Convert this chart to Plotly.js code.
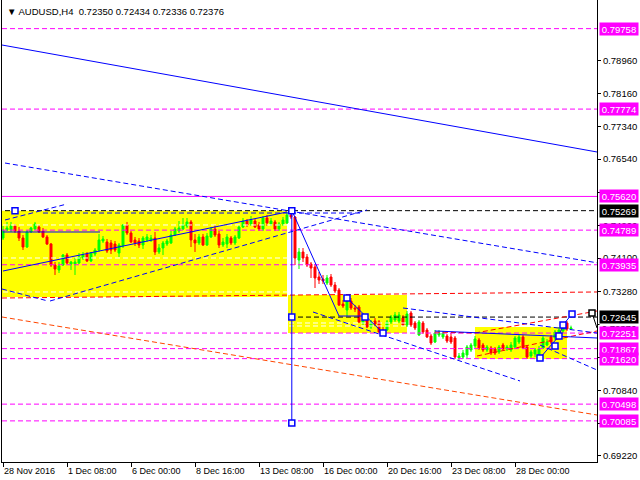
<!DOCTYPE html>
<html><head><meta charset="utf-8">
<script src="https://cdn.plot.ly/plotly-3.0.1.min.js"></script>
<style>html,body{margin:0;padding:0;background:#fff}#chart{width:640px;height:480px}</style>
</head><body><div id="chart"></div>
<script>
// ---------------- DATA ----------------
const symbolTitle = "AUDUSD,H4";
const lastOHLC = [0.72350, 0.72434, 0.72336, 0.72376];

const opens = [0.74595,0.74792,0.74792,0.74891,0.74768,0.74595,0.74373,0.74743,0.74817,0.74866,
0.74768,0.74620,0.74447,0.73929,0.73806,0.73929,0.74176,0.73954,0.73954,0.73978,
0.74102,0.74200,0.74028,0.74200,0.74299,0.74521,0.74496,0.74472,0.74447,0.74225,
0.74398,0.74916,0.74718,0.74546,0.74521,0.74422,0.74546,0.74546,0.74595,0.74250,
0.74348,0.74447,0.74472,0.74669,0.74768,0.74817,0.74891,0.74990,0.74546,0.74472,
0.74620,0.74422,0.74620,0.74817,0.74694,0.74422,0.74447,0.74595,0.74472,0.74595,
0.74866,0.75014,0.74940,0.75014,0.74916,0.74817,0.75088,0.74940,0.74990,0.74817,
0.74940,0.74965,0.75162,0.75113,0.74052,0.74250,0.74126,0.73954,0.73880,0.73633,
0.73584,0.73485,0.73633,0.73436,0.73313,0.72967,0.72819,0.73041,0.72869,0.72893,
0.72499,0.72573,0.72400,0.72548,0.72524,0.72326,0.72326,0.72524,0.72573,0.72548,
0.72622,0.72450,0.72745,0.72499,0.72203,0.72499,0.72326,0.72178,0.72030,0.72203,
0.72154,0.72178,0.72154,0.72129,0.71636,0.71660,0.71710,0.71833,0.71932,0.72080,
0.71956,0.71833,0.71882,0.71858,0.71784,0.71956,0.71858,0.71833,0.71907,0.72030,
0.72154,0.71907,0.71685,0.71734,0.71710,0.71882,0.71956,0.72154,0.72129,0.72252,
0.72302,0.72499,0.72350];
const highs = [0.74891,0.74990,0.74990,0.74940,0.74866,0.74669,0.74792,0.74866,0.74990,0.74916,
0.74842,0.74669,0.74472,0.74003,0.74003,0.74200,0.74225,0.74028,0.74102,0.74225,
0.74250,0.74250,0.74250,0.74348,0.74694,0.74644,0.74570,0.74546,0.74521,0.74472,
0.74940,0.74990,0.74768,0.74620,0.74595,0.74644,0.74694,0.74669,0.74743,0.74447,
0.74521,0.74570,0.74768,0.74866,0.75014,0.75088,0.75088,0.75039,0.74694,0.74694,
0.74694,0.74718,0.74866,0.74916,0.74768,0.74595,0.74694,0.74644,0.74669,0.74916,
0.75088,0.75063,0.75137,0.75063,0.74990,0.75137,0.75162,0.75088,0.75039,0.74990,
0.75113,0.75236,0.75269,0.75137,0.74348,0.74348,0.74200,0.74003,0.73954,0.73756,
0.73683,0.73683,0.73707,0.73510,0.73362,0.73066,0.73140,0.73115,0.72943,0.72943,
0.72647,0.72622,0.72573,0.72622,0.72573,0.72400,0.72573,0.72696,0.72770,0.72770,
0.72696,0.72795,0.72795,0.72548,0.72573,0.72548,0.72376,0.72228,0.72326,0.72326,
0.72302,0.72228,0.72252,0.72178,0.71759,0.71833,0.71956,0.72006,0.72178,0.72129,
0.72006,0.71956,0.71932,0.71907,0.71956,0.72006,0.71956,0.72030,0.72178,0.72228,
0.72203,0.71956,0.71833,0.71882,0.71932,0.72178,0.72104,0.72203,0.72326,0.72400,
0.72524,0.72548,0.72434];
const lows = [0.74546,0.74768,0.74743,0.74718,0.74521,0.74299,0.74348,0.74718,0.74792,0.74718,
0.74595,0.74422,0.73880,0.73683,0.73732,0.73904,0.73954,0.73806,0.73683,0.73954,
0.74052,0.74003,0.74003,0.74151,0.74250,0.74472,0.74225,0.74200,0.74250,0.74126,
0.74348,0.74669,0.74472,0.74398,0.74348,0.74324,0.74496,0.74496,0.74176,0.74200,
0.74176,0.74398,0.74447,0.74644,0.74718,0.74792,0.74842,0.74373,0.74250,0.74422,
0.74398,0.74398,0.74595,0.74620,0.74348,0.74373,0.74348,0.74422,0.74422,0.74570,
0.74842,0.74866,0.74891,0.74842,0.74768,0.74768,0.74891,0.74891,0.74768,0.74768,
0.74891,0.74940,0.75063,0.73929,0.73830,0.74003,0.73880,0.73609,0.73362,0.73461,
0.73461,0.73436,0.73387,0.73239,0.72918,0.72869,0.72671,0.72819,0.72770,0.72499,
0.72450,0.72376,0.72351,0.72425,0.72252,0.72228,0.72302,0.72474,0.72524,0.72499,
0.72425,0.72400,0.72400,0.72326,0.72178,0.72228,0.72129,0.71956,0.72006,0.72154,
0.72104,0.72006,0.71981,0.71611,0.71586,0.71611,0.71636,0.71784,0.71882,0.71833,
0.71784,0.71784,0.71710,0.71710,0.71734,0.71833,0.71808,0.71784,0.71858,0.71981,
0.71858,0.71611,0.71636,0.71660,0.71636,0.71858,0.71932,0.71981,0.72080,0.72228,
0.72252,0.72302,0.72336];
const closes = [0.74792,0.74842,0.74891,0.74768,0.74595,0.74373,0.74743,0.74842,0.74940,0.74743,
0.74620,0.74447,0.73929,0.73830,0.73904,0.74176,0.73978,0.74003,0.74003,0.74126,
0.74176,0.74028,0.74225,0.74299,0.74546,0.74570,0.74274,0.74299,0.74299,0.74422,
0.74916,0.74718,0.74496,0.74472,0.74422,0.74595,0.74620,0.74595,0.74250,0.74348,
0.74472,0.74521,0.74669,0.74817,0.74842,0.74916,0.74990,0.74546,0.74472,0.74620,
0.74422,0.74644,0.74817,0.74669,0.74422,0.74496,0.74620,0.74472,0.74620,0.74866,
0.75014,0.74916,0.75039,0.74866,0.74817,0.75088,0.74965,0.75014,0.74817,0.74940,
0.75039,0.75162,0.75113,0.74102,0.74250,0.74102,0.73929,0.73855,0.73609,0.73559,
0.73535,0.73609,0.73436,0.73288,0.72943,0.72918,0.73066,0.72869,0.72844,0.72524,
0.72573,0.72400,0.72524,0.72474,0.72277,0.72302,0.72524,0.72647,0.72696,0.72696,
0.72450,0.72721,0.72450,0.72376,0.72524,0.72277,0.72154,0.72006,0.72252,0.72252,
0.72252,0.72055,0.72030,0.71660,0.71685,0.71759,0.71907,0.71956,0.72104,0.71882,
0.71833,0.71907,0.71759,0.71759,0.71907,0.71858,0.71907,0.71956,0.72129,0.72154,
0.71882,0.71660,0.71784,0.71833,0.71858,0.72129,0.72030,0.72030,0.72277,0.72326,
0.72450,0.72351,0.72376];

const dateTickBars = [0,16,32,48,64,80,96,112,128];
const dateTickLabels = ["28 Nov 2016","1 Dec 08:00","6 Dec 00:00","8 Dec 16:00","13 Dec 08:00",
  "16 Dec 00:00","20 Dec 16:00","23 Dec 08:00","28 Dec 00:00"];
const priceTicks = [0.69220,0.70020,0.70840,0.71640,0.72460,0.73280,0.74100,0.74900,0.75720,0.76540,0.77340,0.78160,0.78960];

// horizontal levels
const magentaDashedLevels = [0.79758,0.77774,0.74789,0.73935,0.72251,0.71867,0.71620,0.70498,0.70085];
const magentaSolidLevels = [0.75620];
const blackLevels = [0.75269,0.72645];
const blackLevelStartBars = [0.5,71.75];
const bidPrice = 0.72376;

// rectangles (bar index / price)
const zoneStart = [-0.25,71.25,118];
const zoneEnd = [71,101,141];
const zoneTop = [0.75269,0.73190,0.72400];
const zoneBottom = [0.73140,0.72252,0.71611];

// trend lines, grouped by kind
const blueSolidSegments = [
  {x:[-0.25,148.5], y:[0.79354,0.76716]},
  {x:[0,71], y:[0.73781,0.75236]},
  {x:[0,24.25], y:[0.74743,0.74743]},
  {x:[72.2,72.2], y:[0.75269,0.70033]},
  {x:[72.5,84,90.5], y:[0.75211,0.72671,0.72671]},
  {x:[86,95], y:[0.73115,0.72252]},
  {x:[108,148.5], y:[0.72302,0.72129]},
  {x:[134.25,139,140,142.25], y:[0.71636,0.72178,0.72450,0.72721]}
];
const blueDashedSegments = [
  {x:[0.5,148.5], y:[0.76444,0.73983]},
  {x:[11.75,91], y:[0.73041,0.75286]},
  {x:[-0.25,11.25], y:[0.73337,0.73041]},
  {x:[0.5,16], y:[0.75039,0.75433]},
  {x:[10,89.25], y:[0.75211,0.75211]},
  {x:[77.5,129.25], y:[0.72770,0.71069]},
  {x:[100,148.5], y:[0.72869,0.72252]},
  {x:[134.25,148.5], y:[0.71956,0.71340]}
];
const redDashedSegments = [
  {x:[-0.25,148.5], y:[0.73115,0.73264]},
  {x:[108,118,148.5], y:[0.72277,0.72252,0.72795]},
  {x:[118.5,148.5], y:[0.71685,0.72302]}
];
const orangeDashedSegments = [
  {x:[-0.25,148.5], y:[0.72647,0.70230]}
];
const blackSolidSegments = [
  {x:[147.25,148.5], y:[0.72746,0.72376]}
];
const whiteDashedSegments = [
  {x:[0,71], y:[0.74916,0.74916]},
  {x:[0,71], y:[0.74102,0.74102]},
  {x:[0,71], y:[0.73264,0.73264]},
  {x:[71.5,101], y:[0.72499,0.72499]},
  {x:[71.5,101], y:[0.72425,0.72425]}
];
const blueSquareX = [3,72.2,72.2,72.2,86,90.5,95,134.25,138,139,140,142.25];
const blueSquareY = [0.75269,0.75269,0.72645,0.70033,0.73115,0.72645,0.72252,0.71636,0.71932,0.72178,0.72450,0.72721];
const blackSquareX = [147.25];
const blackSquareY = [0.72746];

// ---------------- BUILD ----------------
const xRange = [-0.25,148.5];
const yRange = [0.69071,0.80464];
const barIndex = opens.map((_, i) => i);
const FONT = 'Liberation Sans, Arial, sans-serif';
const DASH = '5px,3px';

function joinSegs(segs){
  const xs = [], ys = [];
  segs.forEach(s => { xs.push(...s.x, null); ys.push(...s.y, null); });
  return {x: xs, y: ys};
}
function lineTrace(segs, color, dash){
  const j = joinSegs(segs);
  return {type:'scatter', mode:'lines', x:j.x, y:j.y, connectgaps:false,
    line:{color:color, width:1, dash:dash||'solid'}, hoverinfo:'skip', showlegend:false};
}
function levelSegs(levels, starts){
  return levels.map((p,k) => ({x:[starts ? starts[k] : xRange[0], xRange[1]], y:[p,p]}));
}

const traces = [];
traces.push(lineTrace(whiteDashedSegments, '#FFFFFF', DASH));
traces.push({
  type:'candlestick', x:barIndex, open:opens, high:highs, low:lows, close:closes,
  increasing:{line:{color:'#00FF00', width:1}, fillcolor:'#00FF00'},
  decreasing:{line:{color:'#FF0000', width:1}, fillcolor:'#FF0000'},
  whiskerwidth:0, hoverinfo:'skip', showlegend:false
});
traces.push(lineTrace(levelSegs(magentaDashedLevels), '#FF00FF', DASH));
traces.push(lineTrace(levelSegs(magentaSolidLevels), '#FF00FF', 'solid'));
traces.push(lineTrace(levelSegs(blackLevels, blackLevelStartBars), '#000000', DASH));
traces.push(lineTrace(orangeDashedSegments, '#FF4500', DASH));
traces.push(lineTrace(redDashedSegments, '#FF0000', DASH));
traces.push(lineTrace(blueDashedSegments, '#0000FF', DASH));
traces.push(lineTrace(blueSolidSegments, '#0000FF', 'solid'));
traces.push(lineTrace(blackSolidSegments, '#000000', 'solid'));
traces.push({type:'scatter', mode:'markers', x:blueSquareX, y:blueSquareY, hoverinfo:'skip', showlegend:false,
  marker:{symbol:'square', size:6, color:'#FFFFFF', line:{color:'#0000FF', width:1.5}}});
traces.push({type:'scatter', mode:'markers', x:blackSquareX, y:blackSquareY, hoverinfo:'skip', showlegend:false,
  marker:{symbol:'square', size:6, color:'#FFFFFF', line:{color:'#000000', width:1.5}}});

const shapes = zoneStart.map((x0,k) => ({
  type:'rect', xref:'x', yref:'y', x0:x0, x1:zoneEnd[k], y0:zoneBottom[k], y1:zoneTop[k],
  fillcolor:'#FFFF00', line:{width:0}, layer:'below'
}));

function priceLabel(p, bg, fg){
  return {xref:'paper', x:1, xanchor:'left', xshift:2, yref:'y', y:p, yanchor:'middle',
    text:p.toFixed(5), showarrow:false, bgcolor:bg, borderpad:1, width:36, height:10,
    font:{family:FONT, size:9.5, color:fg}};
}
const annotations = [];
annotations.push(priceLabel(bidPrice, '#FFFFFF', '#000000'));
[0.79758,0.77774,0.75620,0.74789,0.73935,0.72251,0.71867,0.71620,0.70498,0.70085].forEach(p =>
  annotations.push(priceLabel(p, '#FF00FF', '#FFFFFF')));
blackLevels.forEach(p => annotations.push(priceLabel(p, '#000000', '#FFFFFF')));
annotations.push({xref:'paper', x:0, xanchor:'left', xshift:3, yref:'paper', y:1, yanchor:'top', yshift:-4,
  text:'▼ ' + symbolTitle + '&nbsp; ' + lastOHLC.map(v => v.toFixed(5)).join(' '),
  showarrow:false, font:{family:FONT, size:9.5, color:'#000000'}});

const layout = {
  width:640, height:480, margin:{l:2, r:43, t:0, b:18},
  paper_bgcolor:'#FFFFFF', plot_bgcolor:'#FFFFFF', showlegend:false, hovermode:false,
  xaxis:{type:'linear', range:xRange, showgrid:false, zeroline:false, showline:true, linecolor:'#000000', linewidth:1,
    ticks:'outside', ticklen:4, tickcolor:'#000000', tickvals:dateTickBars, ticktext:dateTickLabels,
    ticklabelposition:'outside right', tickfont:{family:FONT, size:9, color:'#000000'},
    rangeslider:{visible:false}, fixedrange:true},
  yaxis:{side:'right', range:yRange, showgrid:false, zeroline:false, showline:true, mirror:true, linecolor:'#000000', linewidth:1,
    ticks:'outside', ticklen:3, tickcolor:'#000000', tickvals:priceTicks, ticktext:priceTicks.map(v => v.toFixed(5)),
    tickfont:{family:FONT, size:9.5, color:'#000000'}, fixedrange:true},
  shapes:shapes, annotations:annotations
};
Plotly.newPlot('chart', traces, layout, {staticPlot:true, displayModeBar:false});
</script>
</body></html>
